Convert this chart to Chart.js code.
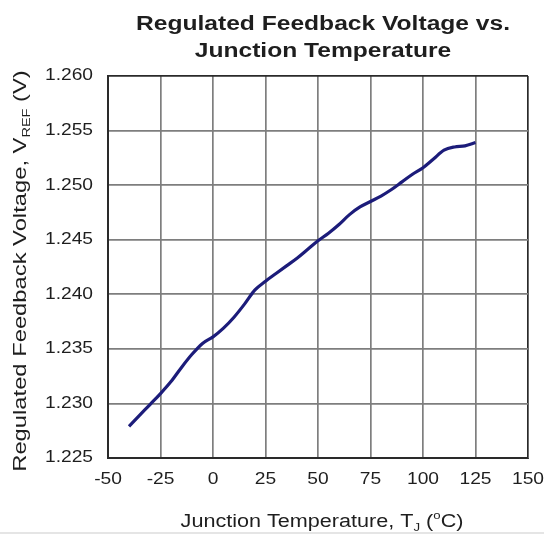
<!DOCTYPE html>
<html>
<head>
<meta charset="utf-8">
<script src="https://cdn.jsdelivr.net/npm/chart.js@4.4.1/dist/chart.umd.min.js"></script>
<style>
  html, body { margin: 0; padding: 0; background: #fff; }
  #wrap { width: 544px; height: 536px; }
</style>
</head>
<body>
<div id="wrap"><canvas id="vrefChart" width="544" height="536"></canvas></div>
<script>
// Junction temperature (degC) and measured feedback voltage (V)
const tempC = [-40, -35, -30, -25, -20, -15, -10, -5, 0, 5, 10, 15, 20, 25, 30, 35, 40, 45, 50, 55,
               60, 65, 70, 75, 80, 85, 90, 95, 100, 105, 110, 115, 120, 125];
const vref = [1.2279, 1.2289, 1.2299, 1.2309, 1.2320, 1.2333, 1.2345, 1.2355, 1.2361, 1.2369,
              1.2379, 1.2391, 1.2404, 1.2412, 1.2419, 1.2426, 1.2433, 1.2441, 1.2449, 1.2456,
              1.2464, 1.2473, 1.2480, 1.2485, 1.2490, 1.2496, 1.2503, 1.2510, 1.2516, 1.2524,
              1.2532, 1.2535, 1.2536, 1.2539];

const xTicks = [-50, -25, 0, 25, 50, 75, 100, 125, 150];
const yTicks = [1.225, 1.230, 1.235, 1.240, 1.245, 1.250, 1.255, 1.260];

const FONT = 'Arial, "Liberation Sans", sans-serif';
const textColor = '#1e1e1e';
const WIDEN = 1.2;   // labels are set a little wide

// draw a run of text pieces (normal / sub / sup) centred on x, stretched by sx
function drawRich(ctx, parts, x, y, size, sx) {
  const widths = parts.map(p => {
    ctx.font = (p.kind ? Math.round(size * 0.62) : size) + 'px ' + FONT;
    return ctx.measureText(p.text).width;
  });
  const total = widths.reduce((a, b) => a + b, 0);
  ctx.save();
  ctx.translate(x, y);
  ctx.scale(sx, 1);
  let cx = -total / 2;
  parts.forEach((p, i) => {
    ctx.font = (p.kind ? Math.round(size * 0.62) : size) + 'px ' + FONT;
    const dy = p.kind === 'sub' ? size * 0.22 : p.kind === 'sup' ? -size * 0.42 : 0;
    ctx.fillText(p.text, cx, dy);
    cx += widths[i];
  });
  ctx.restore();
}

function wideText(ctx, text, x, y, sx, align) {
  ctx.save();
  ctx.translate(x, y);
  ctx.scale(sx, 1);
  ctx.textAlign = align;
  ctx.fillText(text, 0, 0);
  ctx.restore();
}

const labelsPlugin = {
  id: 'labels',
  afterDraw(chart) {
    const ctx = chart.ctx;
    const area = chart.chartArea;
    const xs = chart.scales.x, ys = chart.scales.y;
    ctx.save();
    ctx.fillStyle = textColor;

    // heading
    ctx.textBaseline = 'alphabetic';
    ctx.font = 'bold 20px ' + FONT;
    wideText(ctx, 'Regulated Feedback Voltage vs.', 323, 30, 1.23, 'center');
    wideText(ctx, 'Junction Temperature', 323, 57, 1.23, 'center');

    // tick labels
    ctx.font = '16px ' + FONT;
    ctx.textBaseline = 'middle';
    xTicks.forEach(v => wideText(ctx, String(v), xs.getPixelForValue(v), 480, WIDEN, 'center'));
    yTicks.forEach(v => wideText(ctx, v.toFixed(3), 93, ys.getPixelForValue(v), WIDEN, 'right'));

    // axis titles
    ctx.textBaseline = 'alphabetic';
    ctx.textAlign = 'left';
    drawRich(ctx, [
      { text: 'Junction Temperature, T' },
      { text: 'J', kind: 'sub' },
      { text: ' (' },
      { text: 'o', kind: 'sup' },
      { text: 'C)' }
    ], 322, 527, 18, WIDEN);

    ctx.save();
    ctx.translate(26, 271);
    ctx.rotate(-Math.PI / 2);
    drawRich(ctx, [
      { text: 'Regulated Feedback Voltage, V' },
      { text: 'REF', kind: 'sub' },
      { text: ' (V)' }
    ], 0, 0, 18, 1.32);
    ctx.restore();

    // thin rule along the bottom edge
    ctx.strokeStyle = '#dcdcdc';
    ctx.lineWidth = 1.5;
    ctx.beginPath();
    ctx.moveTo(0, 533);
    ctx.lineTo(544, 533);
    ctx.stroke();
    ctx.restore();
  }
};

function edgeColor(ctx) {
  const n = ctx.scale.ticks.length;
  return (ctx.index === 0 || ctx.index === n - 1) ? '#2a2a2a' : '#7e7e7e';
}

new Chart(document.getElementById('vrefChart'), {
  type: 'line',
  data: {
    datasets: [{
      data: tempC.map((t, i) => ({ x: t, y: vref[i] })),
      borderColor: '#1c1c7a',
      borderWidth: 3.2,
      pointRadius: 0,
      tension: 0.4,
      cubicInterpolationMode: 'monotone',
      fill: false
    }]
  },
  options: {
    responsive: false,
    animation: false,
    layout: { padding: { top: 76, right: 16, left: 0, bottom: 0 } },
    plugins: {
      legend: { display: false },
      tooltip: { enabled: false },
      title: { display: false }
    },
    scales: {
      x: {
        type: 'linear',
        min: -50,
        max: 150,
        afterBuildTicks: s => { s.ticks = xTicks.map(v => ({ value: v })); },
        afterFit: s => { s.height = 78; },
        ticks: { display: false },
        grid: { color: edgeColor, lineWidth: 1.7, tickLength: 0 },
        border: { color: '#2a2a2a', width: 2 }
      },
      y: {
        type: 'linear',
        min: 1.225,
        max: 1.260,
        afterBuildTicks: s => { s.ticks = yTicks.map(v => ({ value: v })); },
        afterFit: s => { s.width = 108; },
        ticks: { display: false },
        grid: { color: edgeColor, lineWidth: 1.7, tickLength: 0 },
        border: { color: '#2a2a2a', width: 2 }
      }
    }
  },
  plugins: [labelsPlugin]
});
</script>
</body>
</html>
